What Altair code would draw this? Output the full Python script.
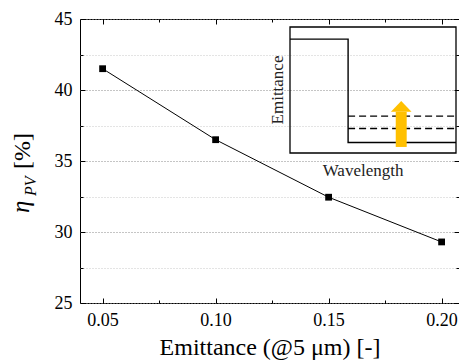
import altair as alt
import pandas as pd

# ---- main series ----
emittance = [0.05, 0.10, 0.15, 0.20]
eta_pv = [41.5, 36.5, 32.45, 29.3]

x_major = [0.05, 0.10, 0.15, 0.20]
x_minor = [0.075, 0.125, 0.175]
y_major = [25, 30, 35, 40, 45]
y_minor = [27.5, 32.5, 37.5, 42.5]
x_domain = [0.04, 0.2077]
y_domain = [25, 45]

x_title = "Emittance (@5 μm) [-]"
y_title_main = "η"
y_title_sub = "PV"
y_title_unit = "[%]"

# ---- inset: schematic spectral emittance ----
inset_wl = [0.0, 0.35, 0.35, 1.0]
inset_em = [0.904, 0.904, 0.083, 0.083]
inset_dash_wl = [0.35, 1.0]
inset_dash_levels = [0.195, 0.293]
arrow_x = [0.637, 0.703]
arrow_y = [0.048, 0.327]
head_x = [0.608, 0.67, 0.732]
head_y = [0.327, 0.412, 0.327]
inset_xlabel = "Wavelength"
inset_ylabel = "Emittance"

FONT = "Liberation Serif"
W, H = 379, 284

df = pd.DataFrame({"x": emittance, "y": eta_pv})
xs = alt.Scale(domain=x_domain, nice=False, zero=False)
ys = alt.Scale(domain=y_domain, nice=False, zero=False)


def axis(orient, values, size, labels=False, grid=False, **kw):
    base = dict(
        orient=orient, values=values, tickSize=alt.ExprRef(expr=str(-size)),
        tickColor="black", tickWidth=1, domain=False, labels=labels, grid=grid,
        labelFont=FONT, labelFontSize=18, labelColor="black", labelFlush=False,
        labelOverlap=False, title=None,
    )
    base.update(kw)
    return alt.Axis(**base)


line = alt.Chart(df).mark_line(color="black", strokeWidth=1).encode(
    x=alt.X("x:Q", scale=xs, axis=axis(
        "bottom", x_major, 5, labels=True, format=".2f", labelPadding=13,
        title=x_title, titleFont=FONT, titleFontSize=24, titleFontWeight="normal",
        titleColor="black", titlePadding=6)),
    y=alt.Y("y:Q", scale=ys, axis=axis(
        "left", y_major, 5, labels=True, format="d", labelPadding=13,
        grid=True, gridColor="#8a8a8a", gridDash=[1, 2], gridWidth=1)),
)

points = alt.Chart(df).mark_point(shape="square", filled=True, color="black", size=46, opacity=1).encode(
    x=alt.X("x:Q", scale=xs, axis=axis("bottom", x_minor, 3)),
    y=alt.Y("y:Q", scale=ys, axis=axis("left", y_minor, 3, grid=True,
                                          gridColor="#c8c8c8", gridDash=[1, 2], gridWidth=1)),
)

top_right_major = alt.Chart(df).mark_point(opacity=0).encode(
    x=alt.X("x:Q", scale=xs, axis=axis("top", x_major, 5)),
    y=alt.Y("y:Q", scale=ys, axis=axis("right", y_major, 5)),
)
top_right_minor = alt.Chart(df).mark_point(opacity=0).encode(
    x=alt.X("x:Q", scale=xs, axis=axis("top", x_minor, 3)),
    y=alt.Y("y:Q", scale=ys, axis=axis("right", y_minor, 3)),
)

# ---- y title composed of pieces (η with subscript PV) ----
def ytext(txt, size, italic, xpos, ypos):
    return alt.Chart(pd.DataFrame({"t": [txt]})).mark_text(
        font=FONT, fontSize=size, fontStyle="italic" if italic else "normal",
        angle=270, align="left", baseline="alphabetic", color="black",
    ).encode(text="t:N", x=alt.value(xpos), y=alt.value(ypos))

yt1 = ytext(y_title_main, 25, True, -51, 194)
yt2 = ytext(y_title_sub, 16, True, -44.5, 177)
yt3 = ytext(y_title_unit, 24, False, -50.5, 150)

# ---- inset ----
ixs = alt.Scale(domain=[0, 1], range=[210, 376], nice=False, zero=False)
iys = alt.Scale(domain=[0, 1], range=[134, 8], nice=False, zero=False)

box = alt.Chart(pd.DataFrame({"a": [0], "b": [1], "c": [0], "d": [1]})).mark_rect(
    fillOpacity=0, stroke="black", strokeWidth=1.3).encode(
    x=alt.X("a:Q", scale=ixs, axis=None), x2="b:Q",
    y=alt.Y("c:Q", scale=iys, axis=None), y2="d:Q")

step = alt.Chart(pd.DataFrame({"wl": inset_wl, "em": inset_em, "i": list(range(len(inset_wl)))})).mark_line(
    color="black", strokeWidth=1.4).encode(
    x=alt.X("wl:Q", scale=ixs, axis=None), y=alt.Y("em:Q", scale=iys, axis=None), order="i:Q")

dash_rows = [{"wl": w, "em": lv, "lvl": str(lv)} for lv in inset_dash_levels for w in inset_dash_wl]
dashed = alt.Chart(pd.DataFrame(dash_rows)).mark_line(
    color="black", strokeWidth=1.4, strokeDash=[7, 4]).encode(
    x=alt.X("wl:Q", scale=ixs, axis=None), y=alt.Y("em:Q", scale=iys, axis=None), detail="lvl:N")

shaft = alt.Chart(pd.DataFrame({"a": [arrow_x[0]], "b": [arrow_x[1]], "c": [arrow_y[0]], "d": [arrow_y[1]]})).mark_rect(
    color="#FFC000").encode(
    x=alt.X("a:Q", scale=ixs, axis=None), x2="b:Q",
    y=alt.Y("c:Q", scale=iys, axis=None), y2="d:Q")

head = alt.Chart(pd.DataFrame({"hx": head_x, "hy": head_y, "base": [head_y[0]] * 3})).mark_area(
    color="#FFC000").encode(
    x=alt.X("hx:Q", scale=ixs, axis=None),
    y=alt.Y("hy:Q", scale=iys, axis=None), y2="base:Q")

wl_text = alt.Chart(pd.DataFrame({"t": [inset_xlabel], "x": [0.44], "y": [-0.146]})).mark_text(
    font=FONT, fontSize=17, color="#222", baseline="middle", align="center").encode(
    text="t:N", x=alt.X("x:Q", scale=ixs, axis=None), y=alt.Y("y:Q", scale=iys, axis=None))

em_text = alt.Chart(pd.DataFrame({"t": [inset_ylabel], "x": [-0.04], "y": [0.5]})).mark_text(
    font=FONT, fontSize=17, color="#222", baseline="alphabetic", align="center", angle=270).encode(
    text="t:N", x=alt.X("x:Q", scale=ixs, axis=None), y=alt.Y("y:Q", scale=iys, axis=None))

inset = alt.layer(box, step, dashed, shaft, head, wl_text, em_text)

chart = alt.layer(
    line, points, top_right_major, top_right_minor, yt1, yt2, yt3, inset
).resolve_scale(x="independent", y="independent").properties(
    width=W, height=H,
    padding={"left": 72, "top": 11, "right": 0, "bottom": 57},
    autosize=alt.AutoSizeParams(type="none"),
).configure(
    background="white", font=FONT
).configure_view(
    stroke="black", strokeWidth=1
).configure_axis(
    labelFont=FONT, titleFont=FONT
).configure_text(font=FONT)

chart.save("out.html", embed_options={"renderer": "svg", "actions": False})
